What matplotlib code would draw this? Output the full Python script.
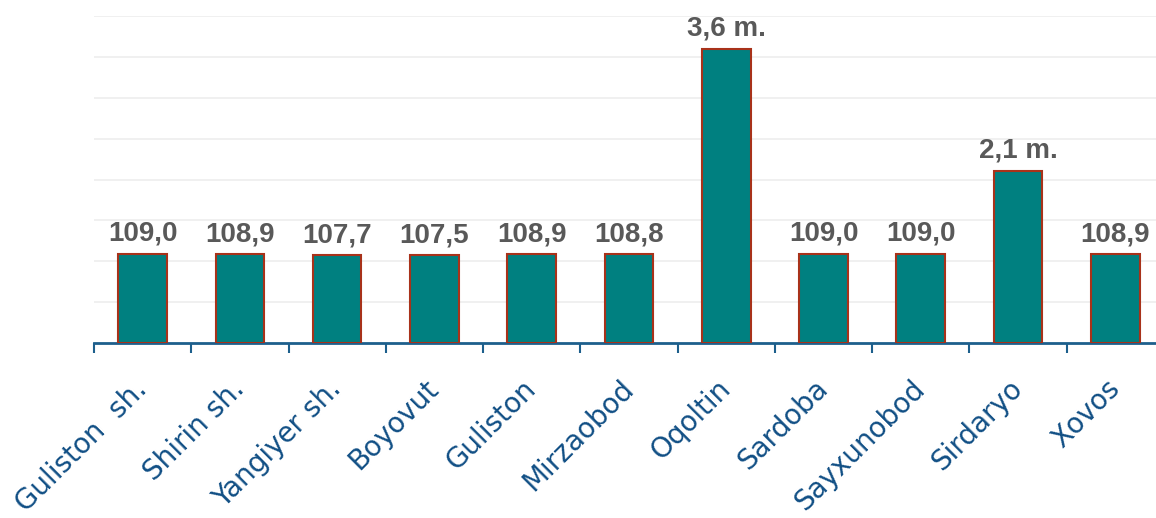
import numpy as np
import matplotlib
matplotlib.use("Agg")
import matplotlib.pyplot as plt

# districts and plotted bar heights (large ones are on a compressed scale)
districts = ["Guliston  sh.", "Shirin sh.", "Yangiyer sh.", "Boyovut", "Guliston",
             "Mirzaobod", "Oqoltin", "Sardoba", "Sayxunobod", "Sirdaryo", "Xovos"]
heights = [109.0, 108.9, 107.7, 107.5, 108.9, 108.8, 360.0, 109.0, 109.0, 211.0, 108.9]
value_labels = ["109,0", "108,9", "107,7", "107,5", "108,9", "108,8",
                "3,6 m.", "109,0", "109,0", "2,1 m.", "108,9"]

bar_color = "#008080"
edge_color = "#a8321a"
axis_color = "#1d5f8c"
label_color = "#114f85"
value_color = "#595959"

fig = plt.figure(figsize=(11.56, 5.18), dpi=100)
ax = fig.add_axes([94 / 1156, 175 / 518, 1070 / 1156, 327 / 518])

x = np.arange(len(districts))
ax.bar(x, heights, width=0.5, color=bar_color, edgecolor=edge_color, linewidth=1.5, zorder=3)

for xi, h, lab in zip(x, heights, value_labels):
    ax.annotate(lab, (xi, h), xytext=(0, 5), textcoords="offset points",
                ha="center", va="bottom", fontsize=20, fontweight="bold",
                color=value_color, family="Liberation Sans", zorder=4)

ax.set_xlim(-0.5, len(districts) - 0.5)
ax.set_ylim(0, 400)
ax.set_yticks(np.arange(50, 401, 50))
ax.yaxis.grid(True, color="#eeeeee", linewidth=1.2, zorder=0)
ax.tick_params(axis="y", left=False, labelleft=False)

# category boundaries get the small tick marks
ax.set_xticks(np.arange(len(districts) + 1) - 0.5, minor=True)
ax.set_xticks(x)
ax.set_xticklabels(districts, rotation=45, ha="right", va="center",
                   rotation_mode="anchor", fontsize=20, color=label_color)
ax.tick_params(axis="x", which="major", length=0, pad=30)
ax.tick_params(axis="x", which="minor", length=7, width=1.5, color=axis_color)

for side in ["left", "right", "top"]:
    ax.spines[side].set_visible(False)
ax.spines["bottom"].set_color(axis_color)
ax.spines["bottom"].set_linewidth(2)

fig.savefig("out.png", dpi=100)
